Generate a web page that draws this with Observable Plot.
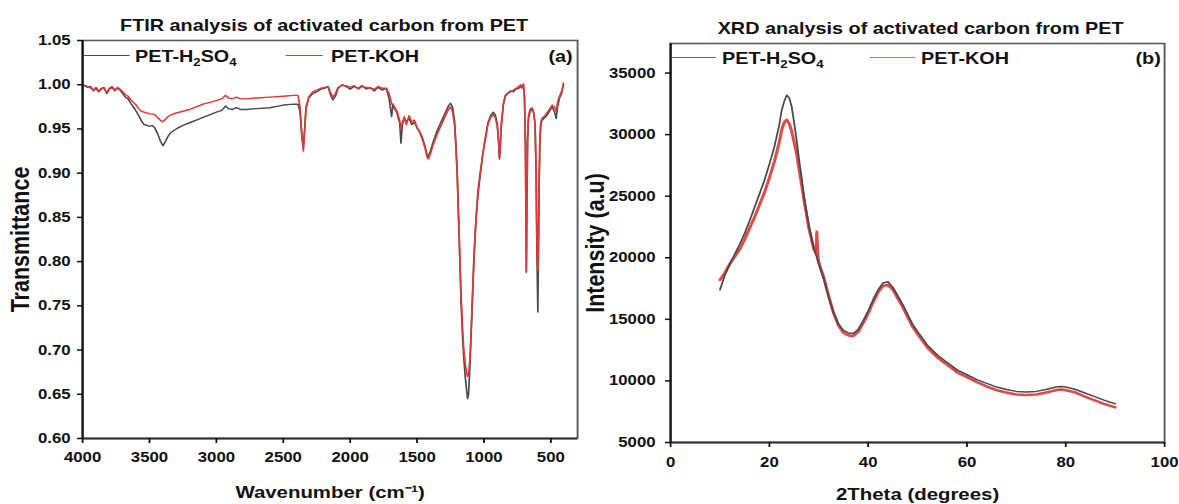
<!DOCTYPE html>
<html>
<head>
<meta charset="utf-8">
<script src="https://cdn.jsdelivr.net/npm/d3@7"></script>
<script src="https://cdn.jsdelivr.net/npm/@observablehq/plot@0.6"></script>
<style>
  html, body { margin: 0; padding: 0; background: #fff; }
  #wrap { position: relative; width: 1179px; height: 504px; overflow: hidden; background: #fff;
          font-family: "Liberation Sans", Arial, sans-serif; font-weight: bold; color: #111; }
  .panel { position: absolute; top: 0; height: 504px; transform-origin: 0 0; transform: scaleX(1.2); }
  .panel svg { overflow: visible; display: block; }
  .leg-line { position: absolute; height: 0; }
  .leg-text { position: absolute; font-size: 16.5px; line-height: 16.5px; white-space: nowrap; }
  .leg-text sub { font-size: 11px; vertical-align: -4px; line-height: 0; }
</style>
</head>
<body>
<div id="wrap">
  <div class="panel" id="pa" style="left:0px; width:491.67px;"></div>
  <div class="panel" id="pb" style="left:590px; width:490.83px;"></div>
</div>
<script>
// ---------------- DATA ----------------
const ftirTitle = "FTIR analysis of activated carbon from PET";
const xrdTitle = "XRD analysis of activated carbon from PET";
const seriesNames = ["PET-H2SO4", "PET-KOH"];
const ftirXLabel = "Wavenumber (cm\u207B\u00B9)";
const ftirYLabel = "Transmittance";
const xrdXLabel = "2Theta (degrees)";
const xrdYLabel = "Intensity (a.u)";
const ftirXDomain = [4000, 300];
const ftirYDomain = [0.60, 1.05];
const ftirXTicks = [4000, 3500, 3000, 2500, 2000, 1500, 1000, 500];
const ftirYTicks = [0.60, 0.65, 0.70, 0.75, 0.80, 0.85, 0.90, 0.95, 1.00, 1.05];
const xrdXDomain = [0, 100];
const xrdYDomain = [5000, 37400];
const xrdXTicks = [0, 20, 40, 60, 80, 100];
const xrdYTicks = [5000, 10000, 15000, 20000, 25000, 30000, 35000];

// FTIR: [wavenumber, transmittance]
const ftirH2SO4 = [[4000,1.000],[3980,0.999],[3960,0.997],[3940,0.998],[3920,0.993],[3900,0.996],[3880,0.992],[3860,0.995],[3840,0.997],[3820,0.990],[3800,0.995],[3780,0.997],[3760,0.993],[3740,0.996],[3720,0.994],[3700,0.990],[3680,0.986],[3660,0.984],[3640,0.979],[3620,0.975],[3600,0.970],[3580,0.965],[3560,0.959],[3540,0.955],[3520,0.954],[3500,0.953],[3480,0.954],[3460,0.951],[3440,0.945],[3420,0.937],[3400,0.931],[3380,0.936],[3360,0.942],[3340,0.946],[3300,0.950],[3250,0.954],[3200,0.957],[3150,0.960],[3100,0.963],[3050,0.966],[3000,0.969],[2960,0.971],[2930,0.976],[2910,0.973],[2880,0.972],[2850,0.974],[2820,0.972],[2780,0.972],[2700,0.973],[2600,0.974],[2500,0.977],[2420,0.978],[2390,0.978],[2375,0.970],[2360,0.940],[2350,0.930],[2340,0.950],[2330,0.975],[2310,0.985],[2280,0.990],[2250,0.992],[2220,0.995],[2190,0.996],[2165,0.998],[2150,0.990],[2130,0.983],[2110,0.987],[2090,0.996],[2060,1.000],[2030,0.998],[2000,0.995],[1970,0.998],[1940,0.996],[1910,0.999],[1880,0.995],[1850,0.997],[1820,0.993],[1790,0.997],[1760,0.994],[1730,0.996],[1710,0.985],[1700,0.975],[1690,0.964],[1680,0.978],[1665,0.972],[1650,0.968],[1640,0.962],[1630,0.957],[1620,0.934],[1610,0.955],[1595,0.962],[1580,0.958],[1560,0.962],[1540,0.955],[1520,0.958],[1500,0.951],[1480,0.947],[1460,0.940],[1440,0.930],[1425,0.921],[1415,0.919],[1400,0.925],[1380,0.935],[1350,0.948],[1320,0.958],[1290,0.968],[1265,0.976],[1250,0.979],[1235,0.975],[1220,0.960],[1210,0.935],[1200,0.900],[1190,0.850],[1180,0.800],[1170,0.750],[1160,0.715],[1150,0.690],[1140,0.670],[1130,0.655],[1122,0.645],[1115,0.650],[1105,0.680],[1095,0.720],[1085,0.760],[1075,0.800],[1060,0.845],[1045,0.875],[1030,0.895],[1010,0.920],[990,0.940],[970,0.957],[950,0.965],[930,0.969],[915,0.966],[900,0.955],[890,0.935],[884,0.916],[878,0.930],[870,0.955],[855,0.978],[840,0.988],[820,0.991],[800,0.993],[780,0.992],[760,0.995],[740,0.996],[725,0.998],[715,0.997],[705,1.000],[697,0.985],[690,0.930],[686,0.850],[683,0.788],[679,0.860],[674,0.935],[667,0.962],[655,0.970],[640,0.973],[628,0.968],[618,0.955],[610,0.900],[604,0.810],[597,0.743],[592,0.820],[587,0.890],[582,0.935],[575,0.955],[565,0.960],[550,0.962],[530,0.965],[510,0.970],[490,0.975],[470,0.968],[460,0.962],[450,0.975],[435,0.985],[420,0.990],[405,1.000]];
const ftirKOH = [[4000,1.000],[3980,0.998],[3960,0.998],[3940,0.996],[3920,0.994],[3900,0.997],[3880,0.993],[3860,0.996],[3840,0.996],[3820,0.991],[3800,0.996],[3780,0.998],[3760,0.994],[3740,0.997],[3720,0.995],[3700,0.992],[3680,0.989],[3660,0.987],[3640,0.983],[3620,0.980],[3600,0.977],[3580,0.973],[3560,0.970],[3540,0.969],[3520,0.968],[3500,0.967],[3480,0.967],[3460,0.966],[3440,0.963],[3420,0.960],[3400,0.958],[3380,0.961],[3360,0.964],[3340,0.966],[3300,0.968],[3250,0.970],[3200,0.972],[3150,0.975],[3100,0.978],[3050,0.980],[3000,0.982],[2960,0.984],[2930,0.988],[2910,0.985],[2880,0.984],[2850,0.986],[2820,0.984],[2780,0.984],[2700,0.985],[2600,0.986],[2500,0.987],[2420,0.988],[2390,0.988],[2375,0.975],[2360,0.940],[2350,0.925],[2340,0.948],[2330,0.972],[2310,0.986],[2280,0.992],[2250,0.994],[2220,0.996],[2190,0.997],[2165,0.998],[2150,0.992],[2130,0.986],[2110,0.990],[2090,0.997],[2060,0.999],[2030,0.999],[2000,0.997],[1970,0.999],[1940,0.995],[1910,0.998],[1880,0.997],[1850,0.996],[1820,0.995],[1790,0.998],[1760,0.996],[1730,0.996],[1710,0.990],[1700,0.985],[1690,0.978],[1680,0.978],[1665,0.974],[1650,0.970],[1640,0.965],[1630,0.960],[1620,0.950],[1610,0.957],[1595,0.964],[1580,0.955],[1560,0.965],[1540,0.958],[1520,0.960],[1500,0.952],[1480,0.946],[1460,0.938],[1440,0.928],[1425,0.918],[1415,0.916],[1400,0.922],[1380,0.932],[1350,0.944],[1320,0.954],[1290,0.964],[1265,0.972],[1250,0.975],[1235,0.970],[1220,0.955],[1210,0.930],[1200,0.900],[1190,0.855],[1180,0.805],[1170,0.760],[1160,0.725],[1150,0.700],[1140,0.685],[1130,0.675],[1122,0.670],[1115,0.672],[1105,0.690],[1095,0.725],[1085,0.765],[1075,0.805],[1060,0.848],[1045,0.880],[1030,0.898],[1010,0.920],[990,0.938],[970,0.955],[950,0.963],[930,0.966],[915,0.963],[900,0.953],[890,0.935],[884,0.918],[878,0.932],[870,0.955],[855,0.977],[840,0.987],[820,0.990],[800,0.992],[780,0.994],[760,0.996],[740,0.998],[725,1.000],[715,0.996],[705,1.001],[697,0.988],[690,0.935],[686,0.860],[683,0.790],[679,0.870],[674,0.940],[667,0.965],[655,0.972],[640,0.974],[628,0.968],[618,0.957],[610,0.905],[604,0.820],[597,0.790],[592,0.830],[587,0.895],[582,0.938],[575,0.958],[565,0.962],[550,0.964],[530,0.968],[510,0.972],[490,0.977],[470,0.974],[460,0.970],[450,0.980],[435,0.987],[420,0.992],[405,1.002]];

// XRD: [2theta, intensity]
const xrdH2SO4 = [[10,17400],[11,18600],[12,19500],[13,20300],[14,21100],[15,22000],[16,23000],[17,24100],[18,25200],[19,26300],[20,27600],[21,29000],[22,30800],[22.5,32000],[23,32700],[23.5,33200],[24,33000],[24.5,32300],[25,31000],[25.5,29600],[26,28000],[26.5,26600],[27,25000],[28,22600],[29,20800],[30,19500],[31,18300],[32,16800],[33,15500],[34,14600],[35,14100],[36,13900],[37,13850],[38,14200],[39,14900],[40,15700],[41,16600],[42,17400],[43,17950],[44,18050],[45,17600],[46,16900],[47,16200],[48,15400],[49,14600],[50,14000],[52,12900],[54,12100],[56,11500],[58,10900],[60,10500],[62,10100],[64,9800],[66,9500],[68,9300],[70,9150],[72,9100],[74,9150],[76,9300],[78,9500],[79,9550],[80,9500],[82,9300],[84,9000],[86,8700],[88,8400],[90,8150]];
const xrdKOH = [[10,18200],[11,18800],[12,19500],[13,20100],[14,20700],[15,21500],[16,22400],[17,23300],[18,24300],[19,25300],[20,26500],[21,27800],[22,29400],[22.5,30400],[23,31000],[23.5,31200],[24,30900],[24.5,30300],[25,29400],[25.5,28500],[26,27200],[26.5,26000],[27,24700],[28,22400],[29,20700],[29.5,20300],[29.6,22100],[29.8,20100],[30,19600],[31,18400],[32,16900],[33,15500],[34,14500],[35,13900],[36,13700],[37,13650],[38,14000],[39,14700],[40,15500],[41,16400],[42,17200],[43,17700],[44,17800],[45,17400],[46,16700],[47,16000],[48,15200],[49,14400],[50,13800],[52,12700],[54,11900],[56,11300],[58,10700],[60,10300],[62,9900],[64,9550],[66,9250],[68,9050],[70,8900],[72,8850],[74,8900],[76,9050],[78,9250],[79,9300],[80,9250],[82,9050],[84,8700],[86,8400],[88,8100],[90,7850]];

// ---------------- STYLE ----------------
const S = 1.2; // horizontal stretch of the original figure
const GRAY = "#4a4a4a";
const RED = "#db3a3a";
const RED_XRD = "#e04a4a";
const baseStyle = {fontFamily: "'Liberation Sans', Arial, sans-serif", fontWeight: "bold", color: "#111", background: "transparent", overflow: "visible"};

function makePanel({title, titleDx, titleDy, xLabel, xLabelDy, yLabel, yLabelDx, xDomain, yDomain, xTicks, yTicks, yFmt,
                    wFinal, mL, mR, mT, mB, xPad, yPad, series}) {
  return Plot.plot({
    width: wFinal / S, height: 504,
    marginLeft: mL / S, marginRight: mR / S, marginTop: mT, marginBottom: mB,
    style: baseStyle,
    x: {domain: xDomain},
    y: {domain: yDomain},
    marks: [
      Plot.frame({stroke: "#5a5a5a", strokeWidth: 1.6}),
      ...series.map(s => Plot.line(s.data, {x: d => d[0], y: d => d[1], stroke: s.color, strokeWidth: s.width, curve: "linear"})),
      Plot.ruleX([xDomain[0]], {stroke: "#111", strokeWidth: 1.8}),
      Plot.ruleY([yDomain[0]], {stroke: "#333", strokeWidth: 1.8}),
      Plot.axisX({ticks: xTicks, tickFormat: d => String(d), tickSize: 5, tickPadding: xPad, label: null, fontSize: 14, strokeWidth: 1.5}),
      Plot.axisY({ticks: yTicks, tickFormat: yFmt, tickSize: 5 / S, tickPadding: yPad / S, label: null, fontSize: 14, strokeWidth: 1.5}),
      Plot.text([title], {text: d => d, frameAnchor: "top", textAnchor: "middle", dx: titleDx / S, dy: titleDy, fontSize: 16.5, fontWeight: "bold", lineAnchor: "middle", fill: "#111"}),
      Plot.text([xLabel], {text: d => d, frameAnchor: "bottom", textAnchor: "middle", dy: xLabelDy, fontSize: 17, fontWeight: "bold", lineAnchor: "middle", fill: "#111"}),
      Plot.text([yLabel], {text: d => d, frameAnchor: "left", textAnchor: "middle", rotate: -90, dx: yLabelDx / S, fontSize: 21.5, fontWeight: "bold", lineAnchor: "middle", fill: "#111"})
    ]
  });
}

const pa = makePanel({
  title: ftirTitle, titleDx: -6, titleDy: -15,
  xLabel: ftirXLabel, xLabelDy: 54, yLabel: ftirYLabel, yLabelDx: -62,
  xDomain: ftirXDomain, yDomain: ftirYDomain, xTicks: ftirXTicks, yTicks: ftirYTicks, yFmt: d3.format(".2f"),
  wFinal: 590, mL: 82, mR: 13, mT: 40, mB: 66, xPad: 9, yPad: 7,
  series: [{data: ftirH2SO4, color: GRAY, width: 1.4}, {data: ftirKOH, color: RED, width: 1.4}]
});
const pb = makePanel({
  title: xrdTitle, titleDx: 3, titleDy: -14.5,
  xLabel: xrdXLabel, xLabelDy: 52, yLabel: xrdYLabel, yLabelDx: -75,
  xDomain: xrdXDomain, yDomain: xrdYDomain, xTicks: xrdXTicks, yTicks: xrdYTicks, yFmt: d => String(d),
  wFinal: 589, mL: 80, mR: 15, mT: 43, mB: 62, xPad: 10, yPad: 10,
  series: [{data: xrdKOH, color: RED_XRD, width: 2.6}, {data: xrdH2SO4, color: GRAY, width: 1.5}]
});
document.getElementById("pa").appendChild(pa);
document.getElementById("pb").appendChild(pb);

// ---------------- LEGENDS (overlay, pre-stretch coordinates) ----------------
function addLegend(el, cfg) {
  const mk = (cls, css, html) => { const d = document.createElement("div"); d.className = cls; Object.assign(d.style, css); if (html) d.innerHTML = html; el.appendChild(d); return d; };
  cfg.lines.forEach(l => mk("leg-line", {left: l.x0 + "px", width: (l.x1 - l.x0) + "px", top: (cfg.y - 0.75) + "px", borderTop: "1.5px solid " + l.color}));
  cfg.texts.forEach(t => mk("leg-text", {left: t.x + "px", top: (cfg.y - 8.5) + "px"}, t.html));
  mk("leg-text", {right: (el.offsetWidth - cfg.tagRight) + "px", top: (cfg.y - 8.5) + "px"}, cfg.tag);
}
const h2so4Html = "PET-H<sub>2</sub>SO<sub>4</sub>";
const kohHtml = seriesNames[1];
addLegend(document.getElementById("pa"), {
  y: 56, tag: "(a)", tagRight: 573 / S,
  lines: [{x0: 83 / S, x1: 130 / S, color: GRAY}, {x0: 286 / S, x1: 323 / S, color: RED}],
  texts: [{x: 135 / S, html: h2so4Html}, {x: 331 / S, html: kohHtml}]
});
addLegend(document.getElementById("pb"), {
  y: 58, tag: "(b)", tagRight: 571 / S,
  lines: [{x0: 81 / S, x1: 126 / S, color: "#666"}, {x0: 280 / S, x1: 325 / S, color: "#e06a6a"}],
  texts: [{x: 132 / S, html: h2so4Html}, {x: 331 / S, html: kohHtml}]
});
</script>
</body>
</html>
